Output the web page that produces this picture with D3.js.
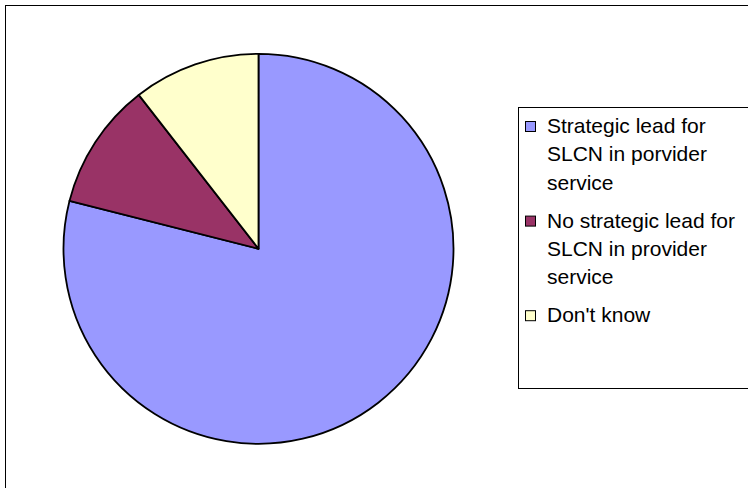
<!DOCTYPE html>
<html>
<head>
<meta charset="utf-8">
<script src="https://cdn.jsdelivr.net/npm/d3@7"></script>
<style>
  html, body { margin: 0; padding: 0; background: #fff; }
  svg { display: block; }
</style>
</head>
<body>
<div id="chart"></div>
<script>
const categories = [
  ["Strategic lead for", "SLCN in porvider", "service"],
  ["No strategic lead for", "SLCN in provider", "service"],
  ["Don't know"]
];
const values = [30, 4, 4];
const colors = ["#9999FF", "#993366", "#FFFFCC"];

const W = 748, H = 488;
const svg = d3.select("#chart").append("svg").attr("width", W).attr("height", H);

// outer frame
svg.append("rect").attr("x", 5.5).attr("y", 5.5).attr("width", 800).attr("height", 600)
  .attr("fill", "#fff").attr("stroke", "#000").attr("stroke-width", 1);

const cx = 258.5, cy = 248.8, r = 195;
const pie = d3.pie().sort(null).value(d => d).startAngle(0).endAngle(2 * Math.PI);
const arc = d3.arc().innerRadius(0).outerRadius(r);

const g = svg.append("g").attr("transform", `translate(${cx},${cy})`);
g.selectAll("path").data(pie(values)).join("path")
  .attr("d", arc)
  .attr("fill", (d, i) => colors[i])
  .attr("stroke", "#000")
  .attr("stroke-width", 1.8)
  .attr("stroke-linejoin", "round");

// legend
svg.append("rect").attr("x", 518.5).attr("y", 107.5).attr("width", 300).attr("height", 281)
  .attr("fill", "#fff").attr("stroke", "#000").attr("stroke-width", 1);

const lineH = 28.3, itemGap = 9.7;
let y = 133;
const lg = svg.append("g");
categories.forEach((lines, i) => {
  lg.append("rect").attr("x", 525.5).attr("y", y - 11.5).attr("width", 10).attr("height", 10)
    .attr("fill", colors[i]).attr("stroke", "#000").attr("stroke-width", 1);
  lines.forEach((t, j) => {
    lg.append("text").attr("x", 547).attr("y", y + j * lineH)
      .attr("font-family", "Liberation Sans, Arial, sans-serif")
      .attr("font-size", 21).attr("fill", "#000").text(t);
  });
  y += lines.length * lineH + itemGap;
});
</script>
</body>
</html>
